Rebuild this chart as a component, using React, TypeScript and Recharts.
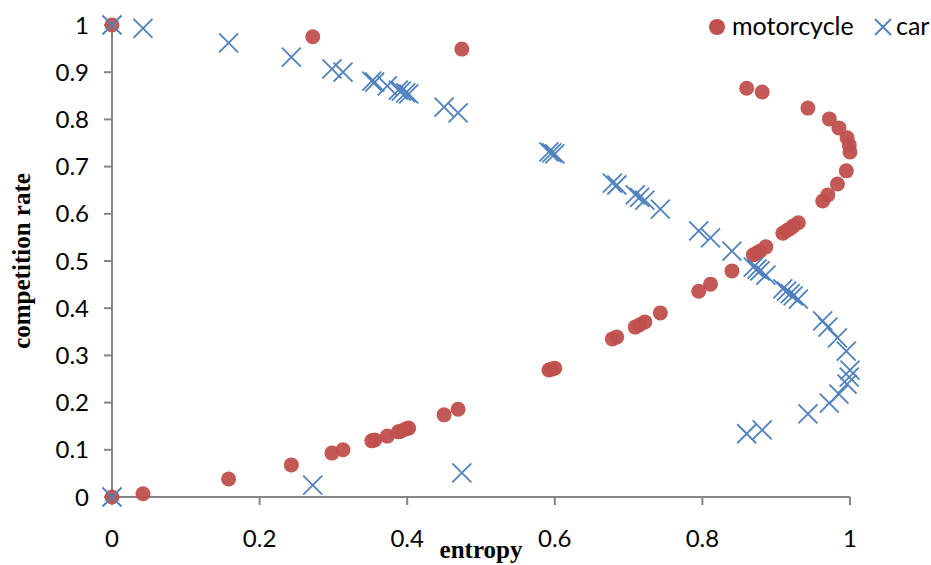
import React from 'react';
import { ScatterChart, Scatter, XAxis, YAxis } from 'recharts';

// entropy (x) and competition rate (y)
const motorcycleX = [0, 0, 0.042, 0.158, 0.243, 0.272, 0.298, 0.313, 0.352, 0.356, 0.373, 0.388, 0.392, 0.398, 0.402, 0.45, 0.469, 0.474, 0.592, 0.596, 0.6, 0.678, 0.684, 0.709, 0.715, 0.722, 0.743, 0.795, 0.811, 0.84, 0.86, 0.869, 0.874, 0.878, 0.881, 0.886, 0.909, 0.914, 0.919, 0.923, 0.93, 0.943, 0.963, 0.97, 0.972, 0.983, 0.985, 0.995, 0.996, 0.999, 1];
const motorcycleY = [1, 0, 0.007, 0.038, 0.068, 0.975, 0.093, 0.1, 0.119, 0.121, 0.129, 0.138, 0.14, 0.144, 0.146, 0.174, 0.186, 0.949, 0.269, 0.271, 0.273, 0.335, 0.339, 0.36, 0.365, 0.371, 0.39, 0.436, 0.451, 0.479, 0.866, 0.513, 0.517, 0.521, 0.858, 0.53, 0.559, 0.564, 0.569, 0.574, 0.581, 0.824, 0.627, 0.64, 0.801, 0.663, 0.782, 0.691, 0.761, 0.746, 0.731];

const carX = [0, 0, 0.042, 0.158, 0.243, 0.272, 0.298, 0.313, 0.352, 0.356, 0.373, 0.388, 0.392, 0.398, 0.402, 0.45, 0.469, 0.474, 0.592, 0.596, 0.6, 0.678, 0.684, 0.709, 0.715, 0.722, 0.743, 0.795, 0.811, 0.84, 0.86, 0.869, 0.874, 0.878, 0.881, 0.886, 0.909, 0.914, 0.919, 0.923, 0.93, 0.943, 0.963, 0.97, 0.972, 0.983, 0.985, 0.995, 0.996, 0.999, 1];
const carY = [0, 1, 0.993, 0.962, 0.932, 0.025, 0.907, 0.9, 0.881, 0.879, 0.871, 0.862, 0.86, 0.856, 0.854, 0.826, 0.814, 0.051, 0.731, 0.729, 0.727, 0.665, 0.661, 0.64, 0.635, 0.629, 0.61, 0.564, 0.549, 0.521, 0.134, 0.487, 0.483, 0.479, 0.142, 0.47, 0.441, 0.436, 0.431, 0.426, 0.419, 0.176, 0.373, 0.36, 0.199, 0.337, 0.218, 0.309, 0.239, 0.254, 0.269];

const xTicks = [0, 0.2, 0.4, 0.6, 0.8, 1];
const yTicks = [0, 0.1, 0.2, 0.3, 0.4, 0.5, 0.6, 0.7, 0.8, 0.9, 1];

const motorcycleData = motorcycleX.map((x, i) => ({ x, y: motorcycleY[i] }));
const carData = carX.map((x, i) => ({ x, y: carY[i] }));

const RED = '#C0504D';
const BLUE = '#4F81BD';
const AXIS = '#868686';
const FONT = 'Lato, "Open Sans", sans-serif';
const SERIF = '"Liberation Serif", "Times New Roman", serif';

const Dot = (props: any) => <circle cx={props.cx} cy={props.cy} r={7.5} fill={RED} fillOpacity={0.95} />;

const Cross = (props: any) => {
  const { cx, cy } = props;
  const s = 9.5;
  return (
    <path
      d={`M${cx - s},${cy - s}L${cx + s},${cy + s}M${cx - s},${cy + s}L${cx + s},${cy - s}`}
      stroke={BLUE}
      strokeWidth={1.8}
      fill="none"
    />
  );
};

// legend drawn on top so it doesn't take space from the plot
const LegendBox = () => (
  <svg width={231} height={40} style={{ position: 'absolute', left: 700, top: 8 }}>
    <circle cx={17} cy={19} r={8} fill={RED} />
    <text x={32} y={27} fontFamily={FONT} fontSize={25} fill="#000">motorcycle</text>
    <path d="M175,11L191,27M175,27L191,11" stroke={BLUE} strokeWidth={1.8} />
    <text x={196} y={27} fontFamily={FONT} fontSize={25} fill="#000">car</text>
  </svg>
);

const App: React.FC = () => {
  return (
    <div style={{ position: 'absolute', left: 0, top: 0, width: 931, height: 565, background: '#fff' }}>
      <ScatterChart width={931} height={565} margin={{ top: 25, right: 81, bottom: 0, left: 0 }}>
        <XAxis
          type="number"
          dataKey="x"
          domain={[0, 1]}
          ticks={xTicks}
          height={68}
          stroke={AXIS}
          strokeWidth={2}
          tickSize={8}
          tickMargin={25}
          tick={{ fill: '#000', fontFamily: FONT, fontSize: 24 }}
          label={{
            content: (p: any) => {
              const vb = p.viewBox;
              return (
                <text x={vb.x + vb.width / 2} y={vb.y + 61} textAnchor="middle" fontFamily={SERIF} fontWeight="bold" fontSize={25} fill="#000">
                  entropy
                </text>
              );
            },
          }}
        />
        <YAxis
          type="number"
          dataKey="y"
          domain={[0, 1]}
          ticks={yTicks}
          width={112}
          stroke={AXIS}
          strokeWidth={2}
          tickSize={8}
          tickMargin={15}
          tick={{ fill: '#000', fontFamily: FONT, fontSize: 24 }}
          label={{
            content: (p: any) => {
              const vb = p.viewBox;
              const cy = vb.y + vb.height / 2;
              return (
                <text x={30} y={cy} transform={`rotate(-90, 30, ${cy})`} textAnchor="middle" fontFamily={SERIF} fontWeight="bold" fontSize={25} fill="#000">
                  competition rate
                </text>
              );
            },
          }}
        />
        <Scatter name="motorcycle" data={motorcycleData} fill={RED} shape={Dot} isAnimationActive={false} />
        <Scatter name="car" data={carData} fill={BLUE} shape={Cross} isAnimationActive={false} />
      </ScatterChart>
      <LegendBox />
    </div>
  );
};

export default App;
